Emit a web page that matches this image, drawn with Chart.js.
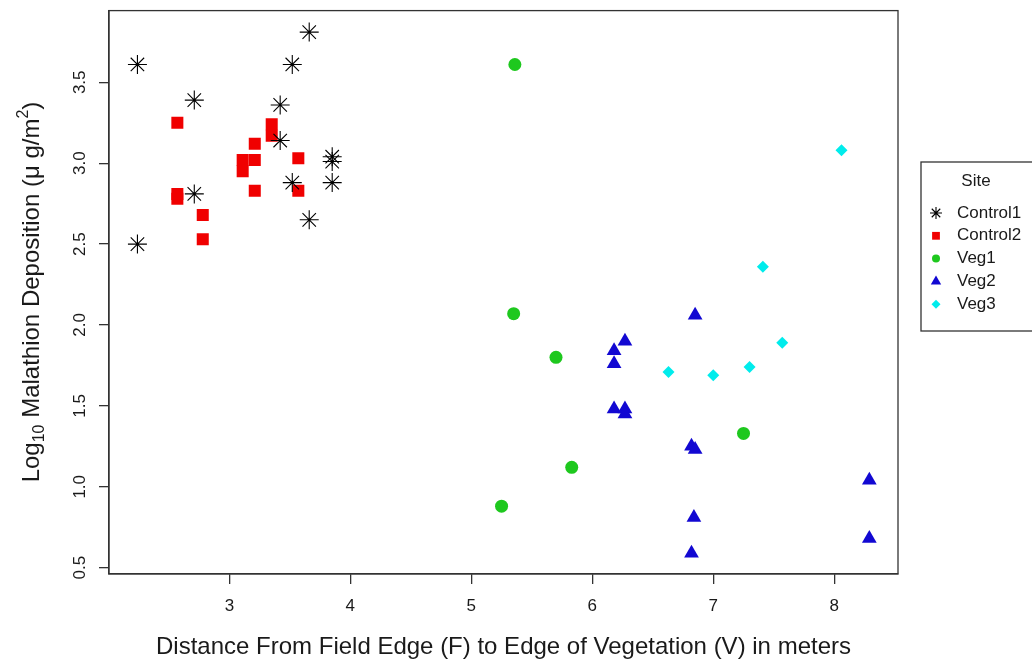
<!DOCTYPE html>
<html>
<head>
<meta charset="utf-8">
<title>Malathion deposition by distance</title>
<script src="https://cdn.jsdelivr.net/npm/chart.js@4.4.1/dist/chart.umd.min.js"></script>
<style>
  html, body { margin: 0; padding: 0; background: #fff; }
  #wrap { width: 1032px; height: 669px; position: relative; }
</style>
</head>
<body>
<div id="wrap"><canvas id="scatter-chart"></canvas></div>
<script>
// distance from field edge (m) and log10 malathion deposition, per site
var control1X = [2.24, 3.66, 3.52, 2.71, 3.42, 3.42, 3.85, 3.85, 3.85, 3.52, 2.71, 3.66, 2.24];
var control1Y = [3.61, 3.81, 3.61, 3.39, 3.36, 3.14, 3.04, 3.01, 2.88, 2.88, 2.81, 2.65, 2.50];

var control2X = [2.57, 3.21, 3.35, 3.35, 3.57, 3.11, 3.21, 3.11, 3.21, 3.57, 2.57, 2.57, 2.78, 2.78];
var control2Y = [3.25, 3.12, 3.24, 3.17, 3.03, 3.02, 3.02, 2.95, 2.83, 2.83, 2.81, 2.78, 2.68, 2.53];

var veg1X = [5.36, 5.35, 5.70, 7.25, 5.83, 5.25];
var veg1Y = [3.61, 2.07, 1.80, 1.33, 1.12, 0.88];

var veg2X = [6.85, 6.27, 6.18, 6.18, 6.18, 6.27, 6.27, 6.82, 6.85, 8.29, 6.84, 8.29, 6.82];
var veg2Y = [2.06, 1.90, 1.84, 1.76, 1.48, 1.48, 1.45, 1.25, 1.23, 1.04, 0.81, 0.68, 0.59];

var veg3X = [6.63, 7.00, 7.30, 7.57, 8.06, 7.41];
var veg3Y = [1.71, 1.69, 1.74, 1.89, 3.08, 2.36];

var siteNames = ["Control1", "Control2", "Veg1", "Veg2", "Veg3"];
var xTicks = [3, 4, 5, 6, 7, 8];
var yTicks = [0.5, 1.0, 1.5, 2.0, 2.5, 3.0, 3.5];

var FONT = "'Liberation Sans', Arial, Helvetica, sans-serif";

function pairs(xs, ys) {
  return xs.map(function (x, i) { return { x: x, y: ys[i] }; });
}

// marker look for each site, plus the smaller version used in the key
var markers = [
  { style: 'star',     color: '#000000', radius: 9.5, border: 1.1, key: 6 },
  { style: 'rect',     color: '#f00000', radius: 8.5, border: 0,   key: 5.5 },
  { style: 'circle',   color: '#1ec81e', radius: 6.5, border: 0,   key: 4 },
  { style: 'triangle', color: '#1208d2', radius: 8.5, border: 0,   key: 6 },
  { style: 'rectRot',  color: '#00ecec', radius: 6,   border: 0,   key: 4.5 }
];
var seriesData = [
  pairs(control1X, control1Y),
  pairs(control2X, control2Y),
  pairs(veg1X, veg1Y),
  pairs(veg2X, veg2Y),
  pairs(veg3X, veg3Y)
];

var datasets = siteNames.map(function (name, i) {
  var m = markers[i];
  return {
    label: name,
    data: seriesData[i],
    pointStyle: m.style,
    pointRadius: m.radius,
    pointHoverRadius: m.radius,
    pointBorderWidth: m.border,
    pointBorderColor: m.color,
    pointBackgroundColor: m.color,
    showLine: false
  };
});

// no extra label padding: the plot box sits exactly on the layout padding
function noPadding(s) {
  s.paddingTop = 0;
  s.paddingBottom = 0;
  s.paddingLeft = 0;
  s.paddingRight = 0;
}

// plot frame, y axis title with sub/superscript, and the boxed site key
var extras = {
  id: 'extras',
  afterDraw: function (chart) {
    var ctx = chart.ctx;
    var a = chart.chartArea;
    ctx.save();
    ctx.strokeStyle = '#333';
    ctx.lineWidth = 1.3;
    ctx.strokeRect(a.left, a.top, a.right - a.left, a.bottom - a.top);

    // y title
    ctx.translate(0, 292);
    ctx.rotate(-Math.PI / 2);
    var parts = [
      { t: 'Log', size: 24, dy: 0 },
      { t: '10', size: 16, dy: 5 },
      { t: ' Malathion Deposition (\u03bc g/m', size: 24, dy: 0 },
      { t: '2', size: 16, dy: -11 },
      { t: ')', size: 24, dy: 0 }
    ];
    var total = 0;
    parts.forEach(function (p) {
      ctx.font = p.size + 'px ' + FONT;
      p.w = ctx.measureText(p.t).width;
      total += p.w;
    });
    var px = -total / 2;
    ctx.fillStyle = '#1a1a1a';
    ctx.textBaseline = 'alphabetic';
    ctx.textAlign = 'left';
    parts.forEach(function (p) {
      ctx.font = p.size + 'px ' + FONT;
      ctx.fillText(p.t, px, 39 + p.dy);
      px += p.w;
    });
    ctx.restore();

    // site key
    ctx.save();
    ctx.strokeStyle = '#333';
    ctx.lineWidth = 1.3;
    ctx.strokeRect(921, 162, 130, 169);
    ctx.fillStyle = '#1a1a1a';
    ctx.font = '17px ' + FONT;
    ctx.textBaseline = 'middle';
    ctx.textAlign = 'center';
    ctx.fillText('Site', 976, 181);
    ctx.textAlign = 'left';
    siteNames.forEach(function (name, i) {
      var m = markers[i];
      var y = 213 + i * 22.8;
      ctx.fillStyle = m.color;
      ctx.strokeStyle = m.color;
      ctx.lineWidth = m.border || 1;
      Chart.helpers.drawPoint(ctx, {
        pointStyle: m.style, radius: m.key, rotation: 0, borderWidth: m.border
      }, 936, y);
      ctx.fillStyle = '#1a1a1a';
      ctx.fillText(name, 957, y);
    });
    ctx.restore();
  }
};

new Chart(document.getElementById('scatter-chart'), {
  type: 'scatter',
  data: { datasets: datasets },
  plugins: [extras],
  options: {
    responsive: true,
    maintainAspectRatio: false,
    animation: false,
    events: [],
    layout: { padding: { top: 10, right: 134, left: 0, bottom: 0 } },
    plugins: {
      legend: { display: false },
      tooltip: { enabled: false }
    },
    scales: {
      x: {
        type: 'linear',
        min: 2.005,
        max: 8.527,
        afterBuildTicks: function (s) { s.ticks = xTicks.map(function (v) { return { value: v }; }); },
        afterFit: function (s) { s.height = 95; noPadding(s); },
        grid: { drawOnChartArea: false, drawTicks: true, tickLength: 10, color: '#333', lineWidth: 1.3 },
        border: { display: true, color: '#333', width: 1.3 },
        ticks: { color: '#1a1a1a', font: { family: FONT, size: 17 }, padding: 12, maxRotation: 0 },
        title: {
          display: true,
          text: 'Distance From Field Edge (F) to Edge of Vegetation (V) in meters',
          color: '#1a1a1a',
          font: { family: FONT, size: 24 },
          padding: { top: 0, bottom: 7 }
        }
      },
      y: {
        type: 'linear',
        min: 0.461,
        max: 3.943,
        afterBuildTicks: function (s) { s.ticks = yTicks.map(function (v) { return { value: v }; }); },
        afterFit: function (s) { s.width = 109; noPadding(s); },
        grid: { drawOnChartArea: false, drawTicks: true, tickLength: 10, color: '#333', lineWidth: 1.3 },
        border: { display: true, color: '#333', width: 1.3 },
        ticks: {
          color: '#1a1a1a',
          font: { family: FONT, size: 17 },
          padding: 7,
          minRotation: 90,
          maxRotation: 90,
          crossAlign: 'center',
          callback: function (v) { return v.toFixed(1); }
        }
      }
    }
  }
});
</script>
</body>
</html>
